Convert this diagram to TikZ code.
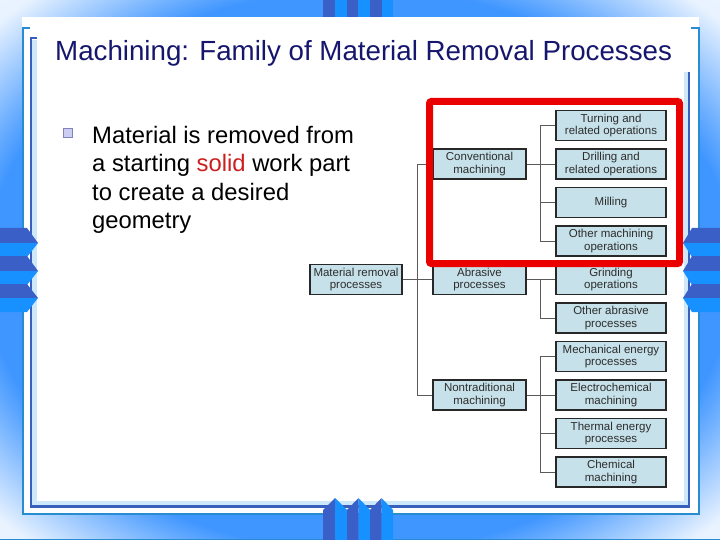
\documentclass[tikz,border=0pt]{standalone}
\usepackage{fontspec}
\setmainfont{Liberation Sans}
\usepackage{xcolor}
\definecolor{glowblue}{RGB}{64,150,255}
\definecolor{stripedark}{RGB}{58,96,200}
\definecolor{stripebright}{RGB}{22,145,255}
\definecolor{outerblue}{RGB}{40,140,210}
\definecolor{innerblue}{RGB}{55,95,190}
\definecolor{stripelight}{RGB}{205,232,250}
\definecolor{titlenavy}{RGB}{22,22,110}
\definecolor{boxfill}{RGB}{198,225,233}
\definecolor{boxline}{RGB}{40,40,40}
\definecolor{boxtext}{RGB}{45,45,45}
\definecolor{linkgray}{RGB}{90,90,90}
\definecolor{markred}{RGB}{235,0,0}
\definecolor{solidred}{RGB}{205,30,30}
\definecolor{bulletfill}{RGB}{205,205,242}
\definecolor{bulletline}{RGB}{130,130,190}
\usepackage{tikz}
\usetikzlibrary{positioning}
\pgfdeclareradialshading{slideglow}{\pgfpoint{0bp}{0bp}}{color(0bp)=(glowblue); color(26bp)=(glowblue); color(30bp)=(glowblue!55!white); color(34bp)=(glowblue!12!white); color(50bp)=(white)}

\begin{document}
\begin{tikzpicture}[
    x=1pt, y=-1pt,
    procbox/.style={rectangle, draw=boxline, fill=boxfill, line width=1.2pt, minimum width=93pt, minimum height=30pt, inner sep=1pt, align=center, text=boxtext, font=\fontsize{11.5}{12.5}\selectfont},
    opbox/.style={procbox, minimum width=110pt},
    link/.style={draw=linkgray, line width=0.9pt},
    highlight/.style={draw=markred, line width=7pt, rounded corners=2pt},
    darkband/.style={fill=stripedark},
    brightband/.style={fill=stripebright},
    outerframe/.style={draw=outerblue, line width=2pt},
    innerframe/.style={draw=innerblue, line width=2.5pt},
    lightstrip/.style={draw=stripelight, line width=5pt},
    bulletbox/.style={rectangle, draw=bulletline, fill=bulletfill, line width=0.8pt, minimum size=9pt, inner sep=0pt}
]

\useasboundingbox (0,0) rectangle (720,540);
\shade[shading=slideglow] (0,0) rectangle (720,540);

% slide frame
\fill[darkband] (323,0) rectangle (335,17);
\fill[brightband] (335,0) rectangle (347,17);
\fill[darkband] (347,0) rectangle (358,17);
\fill[brightband] (358,0) rectangle (370,17);
\fill[darkband] (370,0) rectangle (382,17);
\fill[brightband] (382,0) rectangle (393,17);
\fill[white] (22,17) rectangle (699,514);
\draw[outerframe] (30,28) -- (22.5,28) -- (22.5,514) -- (698.5,514) -- (698.5,28) -- (691,28);
\draw[lightstrip] (34.5,40) -- (34.5,503.5) -- (686,503.5) -- (686,72);
\draw[innerframe] (37,38) -- (31,38) -- (31,506.5) -- (689,506.5) -- (689,72);
\draw[outerframe, line width=1pt] (0,539.5) -- (720,539.5);

% side and bottom arrows
\fill[darkband] (0,228) -- (27,228) -- (38,243) -- (0,243) -- cycle;
\fill[brightband] (0,243) -- (38,243) -- (27,257) -- (0,257) -- cycle;
\fill[darkband] (0,256) -- (27,256) -- (38,271) -- (0,271) -- cycle;
\fill[brightband] (0,271) -- (38,271) -- (27,285) -- (0,285) -- cycle;
\fill[darkband] (0,284) -- (27,284) -- (38,298) -- (0,298) -- cycle;
\fill[brightband] (0,298) -- (38,298) -- (27,312) -- (0,312) -- cycle;
\fill[darkband] (720,228) -- (692,228) -- (683,243) -- (720,243) -- cycle;
\fill[brightband] (720,243) -- (683,243) -- (692,257) -- (720,257) -- cycle;
\fill[darkband] (720,256) -- (692,256) -- (683,271) -- (720,271) -- cycle;
\fill[brightband] (720,271) -- (683,271) -- (692,285) -- (720,285) -- cycle;
\fill[darkband] (720,284) -- (692,284) -- (683,298) -- (720,298) -- cycle;
\fill[brightband] (720,298) -- (683,298) -- (692,312) -- (720,312) -- cycle;
\fill[darkband] (323,540) -- (323,510) -- (335,498) -- (335,540) -- cycle;
\fill[brightband] (335,540) -- (335,498) -- (347,510) -- (347,540) -- cycle;
\fill[darkband] (347,540) -- (347,510) -- (358.5,498) -- (358.5,540) -- cycle;
\fill[brightband] (358.5,540) -- (358.5,498) -- (370,510) -- (370,540) -- cycle;
\fill[darkband] (370,540) -- (370,510) -- (381.5,498) -- (381.5,540) -- cycle;
\fill[brightband] (381.5,540) -- (381.5,498) -- (393,510) -- (393,540) -- cycle;

% title and bullet
\node[anchor=base west, inner sep=0pt, text=titlenavy, font=\fontsize{27.7}{32}\selectfont] (title) at (55,61) {Machining: Family of Material Removal Processes};
\node[bulletbox] (bullet) at (68,133) {};
\node[anchor=north west, inner sep=0pt, align=left, font=\fontsize{23.8}{28.5}\selectfont] (point) at (92,126)
  {Material is removed from\\a starting \textcolor{solidred}{solid} work part\\to create a desired\\geometry};

% process tree
\node[opbox] (turn) at (611,125.5) {Turning and\\related operations};
\node[opbox, below=7.3pt of turn] (drill) {Drilling and\\related operations};
\node[opbox, below=7.3pt of drill] (mill) {Milling};
\node[opbox, below=7.3pt of mill] (othm) {Other machining\\operations};
\node[opbox, below=7.3pt of othm] (grind) {Grinding\\operations};
\node[opbox, below=7.3pt of grind] (otha) {Other abrasive\\processes};
\node[opbox, below=7.3pt of otha] (mech) {Mechanical energy\\processes};
\node[opbox, below=7.3pt of mech] (elec) {Electrochemical\\machining};
\node[opbox, below=7.3pt of elec] (therm) {Thermal energy\\processes};
\node[opbox, below=7.3pt of therm] (chem) {Chemical\\machining};

\node[procbox, left=28.8pt of drill] (conv) {Conventional\\machining};
\node[procbox, left=28.8pt of grind] (abr) {Abrasive\\processes};
\node[procbox, left=28.8pt of elec] (nontrad) {Nontraditional\\machining};
\node[procbox, minimum width=92pt, left=29.8pt of abr] (mrp) {Material removal\\processes};

\draw[link] (mrp.east) -- (abr.west);
\draw[link] (conv.west) -- ++(-14.5pt,0) |- (nontrad.west);
\draw[link] (conv.east) -- (drill.west);
\draw[link] (turn.west) -- ++(-15pt,0) |- (othm.west);
\draw[link] (mill.west) -- ++(-15pt,0);
\draw[link] (abr.east) -- (grind.west);
\draw[link] (grind.west) -- ++(-15pt,0) |- (otha.west);
\draw[link] (nontrad.east) -- (elec.west);
\draw[link] (mech.west) -- ++(-15pt,0) |- (chem.west);
\draw[link] (therm.west) -- ++(-15pt,0);

\draw[highlight] (429.5,101.5) rectangle (679.5,263.5);

\end{tikzpicture}
\end{document}
